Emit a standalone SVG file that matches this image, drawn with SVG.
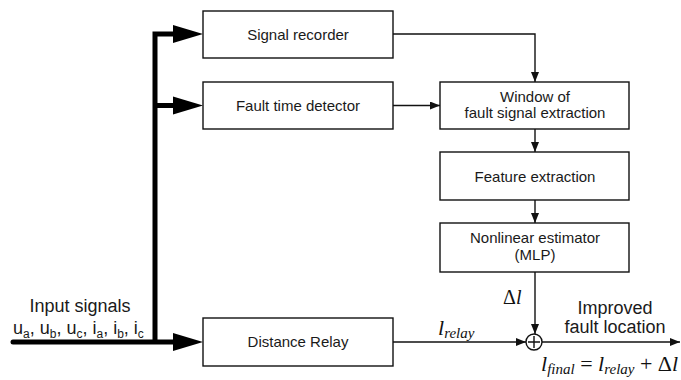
<svg xmlns="http://www.w3.org/2000/svg" width="681" height="380" viewBox="0 0 681 380">
  <defs>
    <style>
      .box { fill: #ffffff; stroke: #111; stroke-width: 1.4; }
      .lbl { font-family: "Liberation Sans", Arial, sans-serif; font-size: 15px; fill: #1a1a1a; text-anchor: middle; }
      .big { font-family: "Liberation Sans", Arial, sans-serif; font-size: 18px; fill: #1a1a1a; }
      .math { font-family: "Liberation Serif", "Times New Roman", serif; fill: #111; }
      .wire { fill: none; stroke: #111; stroke-width: 1.4; }
      .bus { fill: none; stroke: #000; stroke-width: 5; }
    </style>
    <marker id="arr" viewBox="0 0 10 8" refX="10" refY="4" markerWidth="10" markerHeight="8" markerUnits="userSpaceOnUse" orient="auto">
      <path d="M0,0 L10,4 L0,8 Z" fill="#111"/>
    </marker>
  </defs>

  <!-- thick input bus with its three branches -->
  <g id="input-bus">
    <path class="bus" d="M13,342 H174" stroke-linecap="round"/>
    <path class="bus" d="M155,344 V34 H174"/>
    <path class="bus" d="M155,105.5 H174"/>
    <polygon points="173,333 203,342 173,351" fill="#000"/>
    <polygon points="173,25 203,34 173,43" fill="#000"/>
    <polygon points="173,96.5 203,105.5 173,114.5" fill="#000"/>
    <text class="big" x="80" y="312" text-anchor="middle">Input signals</text>
    <text class="big" x="13" y="334">u<tspan dy="4" font-size="12">a</tspan><tspan dy="-4">, u</tspan><tspan dy="4" font-size="12">b</tspan><tspan dy="-4">, u</tspan><tspan dy="4" font-size="12">c</tspan><tspan dy="-4">, i</tspan><tspan dy="4" font-size="12">a</tspan><tspan dy="-4">, i</tspan><tspan dy="4" font-size="12">b</tspan><tspan dy="-4">, i</tspan><tspan dy="4" font-size="12">c</tspan></text>
  </g>

  <!-- thin signal connectors -->
  <g id="connectors">
    <path class="wire" d="M393,34 H535 V82" marker-end="url(#arr)"/>
    <path class="wire" d="M393,105.5 H440" marker-end="url(#arr)"/>
    <path class="wire" d="M535,129 V152" marker-end="url(#arr)"/>
    <path class="wire" d="M535,200 V223" marker-end="url(#arr)"/>
    <path class="wire" d="M535,272 V334" marker-end="url(#arr)"/>
    <path class="wire" d="M393,342 H526" marker-end="url(#arr)"/>
    <path class="wire" d="M542,342 H680" marker-end="url(#arr)"/>
  </g>

  <g id="signal-recorder">
    <rect class="box" x="203" y="11" width="190" height="47"/>
    <text class="lbl" x="298" y="39.5">Signal recorder</text>
  </g>

  <g id="fault-time-detector">
    <rect class="box" x="203" y="82" width="190" height="47"/>
    <text class="lbl" x="298" y="111">Fault time detector</text>
  </g>

  <g id="window-extraction">
    <rect class="box" x="440" y="82" width="189" height="47"/>
    <text class="lbl" x="535" y="102">Window of</text>
    <text class="lbl" x="535" y="118">fault signal extraction</text>
  </g>

  <g id="feature-extraction">
    <rect class="box" x="440" y="152" width="189" height="48"/>
    <text class="lbl" x="535" y="181.5">Feature extraction</text>
  </g>

  <g id="nonlinear-estimator">
    <rect class="box" x="440" y="223" width="189" height="49"/>
    <text class="lbl" x="535" y="243">Nonlinear estimator</text>
    <text class="lbl" x="535" y="260">(MLP)</text>
  </g>

  <g id="distance-relay">
    <rect class="box" x="203" y="318" width="190" height="48"/>
    <text class="lbl" x="298" y="347">Distance Relay</text>
  </g>

  <!-- summing junction -->
  <g id="sum">
    <circle cx="534" cy="342" r="8" fill="#fff" stroke="#111" stroke-width="1.4"/>
    <path d="M528,342 H540 M534,336 V348" stroke="#111" stroke-width="1.4"/>
  </g>

  <!-- signal labels -->
  <g id="labels">
    <text class="math" x="503" y="304" font-size="20">Δ<tspan font-style="italic">l</tspan></text>
    <text class="math" x="438" y="335" font-size="22" font-style="italic">l<tspan dy="3" font-size="15">relay</tspan></text>
    <text class="big" x="615" y="314" text-anchor="middle">Improved</text>
    <text class="big" x="615" y="333" text-anchor="middle">fault location</text>
    <text class="math" x="541" y="371" font-size="22"><tspan font-style="italic">l</tspan><tspan dy="3" font-size="15" font-style="italic">final</tspan><tspan dy="-3"> = </tspan><tspan font-style="italic">l</tspan><tspan dy="3" font-size="15" font-style="italic">relay</tspan><tspan dy="-3"> + Δ</tspan><tspan font-style="italic">l</tspan></text>
  </g>
</svg>
